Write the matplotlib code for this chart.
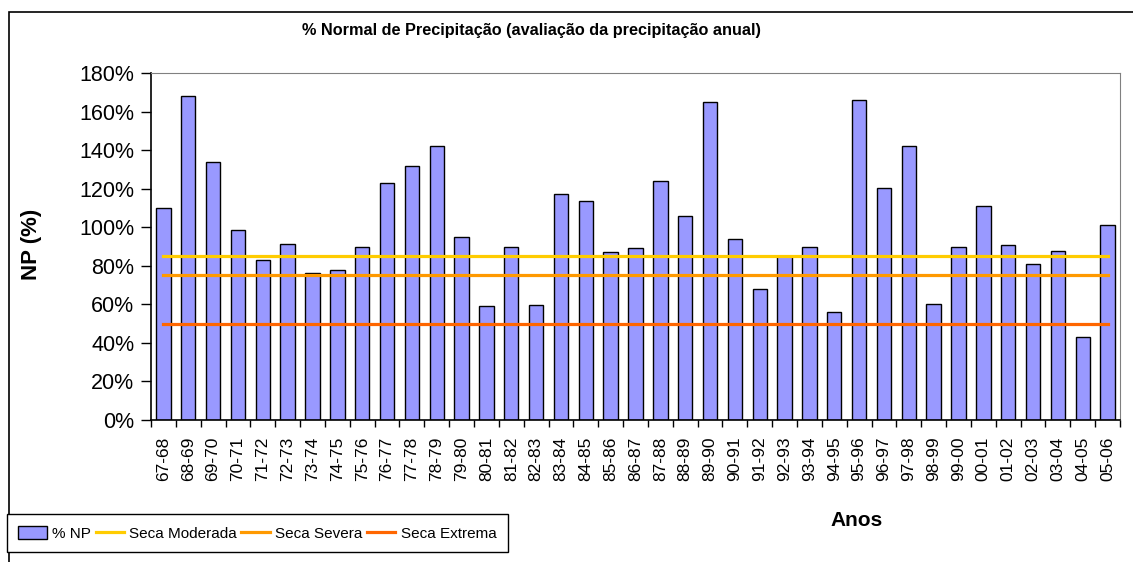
"""% Normal de Precipitação: yearly NP bars with drought thresholds (Excel-style chart)."""
import matplotlib
matplotlib.use("Agg")
import matplotlib.pyplot as plt
from matplotlib.patches import Rectangle
from matplotlib.ticker import FixedLocator, FuncFormatter

plt.rcParams["font.family"] = ["Liberation Sans", "DejaVu Sans"]

ANOS = [
    "67-68", "68-69", "69-70", "70-71", "71-72", "72-73", "73-74", "74-75",
    "75-76", "76-77", "77-78", "78-79", "79-80", "80-81", "81-82", "82-83",
    "83-84", "84-85", "85-86", "86-87", "87-88", "88-89", "89-90", "90-91",
    "91-92", "92-93", "93-94", "94-95", "95-96", "96-97", "97-98", "98-99",
    "99-00", "00-01", "01-02", "02-03", "03-04", "04-05", "05-06",
]
NP = [
    110, 168, 134, 98.5, 83, 91.5, 76.5, 78,
    90, 123, 132, 142, 95, 59, 90, 59.5,
    117, 113.5, 87, 89, 124, 106, 165, 94,
    68, 85, 90, 56, 166, 120.5, 142, 60,
    90, 111, 91, 81, 87.5, 43, 101,
]
SECA_MODERADA = 85
SECA_SEVERA = 75
SECA_EXTREMA = 50

BAR_COLOR = "#9999FF"
COR_MODERADA = "#FFCC00"
COR_SEVERA = "#FF9900"
COR_EXTREMA = "#FF6600"

W, H = 1133, 562
fig = plt.figure(figsize=(W / 100, H / 100), dpi=100)
fig.patch.set_facecolor("white")

# plot area in pixels: x 151..1120, y 73..420
ax = fig.add_axes([151 / W, 1 - 420 / H, (1120 - 151) / W, (420 - 73) / H])

x = list(range(len(ANOS)))
bars = ax.bar(x, NP, width=0.58, color=BAR_COLOR, edgecolor="black",
              linewidth=1.0, label="% NP", zorder=2)
l1, = ax.plot(x, [SECA_MODERADA] * len(x), color=COR_MODERADA, lw=2.3,
              label="Seca Moderada", zorder=3)
l2, = ax.plot(x, [SECA_SEVERA] * len(x), color=COR_SEVERA, lw=2.3,
              label="Seca Severa", zorder=3)
l3, = ax.plot(x, [SECA_EXTREMA] * len(x), color=COR_EXTREMA, lw=2.3,
              label="Seca Extrema", zorder=3)

ax.set_xlim(-0.5, len(ANOS) - 0.5)
ax.set_ylim(0, 180)
ax.set_yticks(range(0, 181, 20))
ax.yaxis.set_major_formatter(FuncFormatter(lambda v, _: f"{v:.0f}%"))
ax.tick_params(axis="y", direction="out", length=7, width=1, pad=5,
               labelsize=15.5, color="black")

ax.set_xticks(x)
ax.set_xticklabels(ANOS, rotation=90, fontsize=12.5)
ax.tick_params(axis="x", which="major", length=0, pad=12)
ax.xaxis.set_minor_locator(FixedLocator([i - 0.5 for i in range(len(ANOS) + 1)]))
ax.tick_params(axis="x", which="minor", direction="out", length=5, width=1)

for side in ("top", "right"):
    ax.spines[side].set_color("#808080")
for side in ("left", "bottom"):
    ax.spines[side].set_color("black")
    ax.spines[side].set_linewidth(1.2)

ax.set_ylabel("NP (%)", fontsize=16, fontweight="bold")
ax.yaxis.set_label_coords(42 / W, 1 - 244 / H, transform=fig.transFigure)

fig.text(531 / W, 1 - 30 / H,
         "% Normal de Precipitação (avaliação da precipitação anual)",
         ha="center", va="center", fontsize=11.7, fontweight="bold")
fig.text(857 / W, 1 - 520 / H, "Anos", ha="center", va="center",
         fontsize=15, fontweight="bold")

# chart-area border (right and bottom edges fall outside the picture)
fig.add_artist(Rectangle((9 / W, -0.1), 1.2, 1.1 - 12 / H,
                         transform=fig.transFigure, fill=False,
                         edgecolor="black", linewidth=1.2))

leg = fig.legend(handles=[bars, l1, l2, l3],
                 labels=["% NP", "Seca Moderada", "Seca Severa", "Seca Extrema"],
                 loc="lower left", bbox_to_anchor=(7 / W, 10 / H), ncol=4,
                 fontsize=11, frameon=True, fancybox=False, edgecolor="black",
                 framealpha=1, handlelength=1.85, handleheight=0.9,
                 handletextpad=0.35, columnspacing=0.3, borderpad=0.75,
                 borderaxespad=0)
leg.get_frame().set_linewidth(1.0)

fig.savefig("out.png", dpi=100)
